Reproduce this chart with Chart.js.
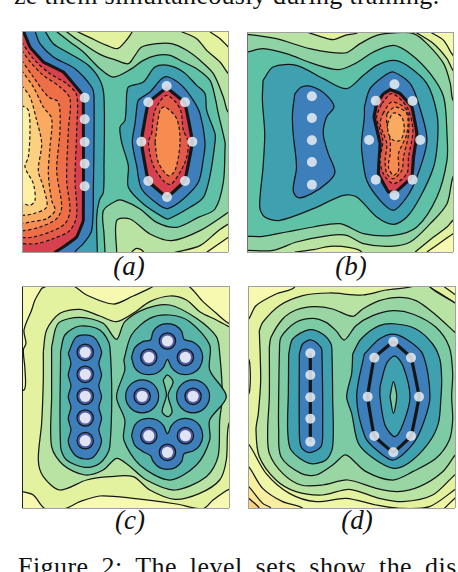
<!DOCTYPE html>
<html><head><meta charset="utf-8">
<style>
html,body{margin:0;padding:0;background:#fff;width:458px;height:572px;overflow:hidden;position:relative}
canvas{position:absolute}
.t{position:absolute;white-space:nowrap;font-family:"Liberation Serif",serif;color:#111}
.cap{position:absolute;white-space:nowrap;font-family:"Liberation Serif",serif;font-style:italic;font-size:27px;color:#111;transform:translateX(-50%)}
</style></head><body>
<div class="t" style="left:14px;top:-19px;font-size:26px;letter-spacing:.3px">ze them simultaneously during training.</div>
<div class="t" style="left:18px;top:552px;font-size:26px;word-spacing:6px;letter-spacing:.45px">Figure 2: The level sets show the dis</div>
<div class="cap" style="left:129px;top:251px">(a)</div>
<div class="cap" style="left:351px;top:251px">(b)</div>
<div class="cap" style="left:130px;top:505px">(c)</div>
<div class="cap" style="left:357px;top:505px">(d)</div>
<canvas id="pa"></canvas><canvas id="pb"></canvas><canvas id="pc"></canvas><canvas id="pd"></canvas>
<script src="https://cdn.jsdelivr.net/npm/chart.js@4/dist/chart.umd.min.js"></script>
<script>
// Colour levels of the contour map
const Y0='#f6f9b0',Y1='#e3f29e',G2='#b9e3a2',G3='#8fd3a5',T4='#5fc1a6',T5='#3fa0b0',B6='#3c7fba';
const R7='#d7404e',R8='#e25a48',R9='#ee6f47',O10='#f68c50',O11='#fbab61',O12='#fdd07f',O13='#fef0a5';

// Panel (a) contour vertices
const a01=[228,92,270,112,320,135,352,145,372,128,397,92,397,50,228,50];
const a02=[540,92,590,115,620,150,660,185,685,220,720,250,720,50,540,50];
const a03=[630,95,660,115,685,140,720,170,720,50,630,50];
const a04=[395,754,410,744,430,754,430,790,395,790];
const a05=[525,756,600,736,655,691,685,671,720,650,720,800,525,800];
const a06=[620,756,670,721,685,711,720,690,720,800,620,800];
const a07=[197,92,235,120,300,162,350,180,385,190,405,165,425,140,470,130,515,130,560,150,600,180,640,220,670,290,684,335,720,370,720,610,685,636,600,691,515,721,450,701,390,656,350,661,350,756,350,800,20,800,20,50,197,50];
const a08=[168,92,210,125,250,155,300,205,340,230,395,205,430,180,470,165,510,165,550,185,590,205,630,240,645,290,655,340,675,426,675,446,670,546,645,626,595,651,530,681,470,666,420,626,370,601,350,601,310,631,312,700,315,756,315,800,20,800,20,50,168,50];
const a09=[135,92,160,130,210,160,265,195,300,240,312,290,312,500,310,576,298,600,290,650,292,756,292,800,20,800,20,50,135,50];
const a10=[380,280,385,260,430,245,465,200,505,195,550,215,590,255,615,280,620,330,645,400,645,426,630,526,610,591,570,621,505,656,490,651,430,611,385,561,385,496,365,426,360,380,375,360,380,280];
const a11=[105,92,120,130,160,170,225,205,275,260,282,290,280,570,275,690,250,730,225,756,225,800,20,800,20,50,105,50];
const a12=[410,325,415,300,450,275,485,235,505,230,545,255,580,300,600,340,615,425,610,476,595,546,550,596,505,624,480,616,425,566,410,496,397,426,405,370,410,325];
const a13=[70,92,90,140,130,185,190,215,245,280,250,310,250,660,230,710,190,740,165,756,165,800,20,800,20,50,70,50];
const a14=[65,125,100,175,150,220,200,250,230,285,230,390,225,540,230,645,210,690,160,715,110,730,65,730,20,730,20,125];
const a15=[65,150,95,190,130,225,180,260,210,295,205,390,200,540,210,630,195,670,150,695,100,710,65,712,20,712,20,150];
const a16=[65,180,100,230,145,290,175,305,180,390,170,510,185,620,170,655,120,680,65,692,20,692,20,180];
const a17=[65,210,100,260,130,320,155,355,150,440,145,520,155,600,165,630,140,655,90,665,65,670,20,670,20,210];
const a18=[65,255,90,290,110,360,125,430,115,510,130,560,140,620,100,640,65,645,20,645,20,255];
const a19=[65,315,85,330,90,390,85,470,75,500,100,550,105,600,90,615,65,608,20,608,20,315];
const a20=[500,262,445,307,424,424,445,542,501,590,554,542,577,424,554,307,500,262];
const a21=[455,400,465,330,500,285,540,325,550,390,565,426,555,486,515,551,495,546,460,496,445,426,455,400];
const a22=[465,426,480,330,495,320,530,355,540,426,525,511,505,526,475,486,465,426];
const aPathList=[a01,a02,a03,a04,a05,a06,a07,a08,a09,a10,a11,a12,a13,a14,a15,a16,a17,a18,a19,a20,a21,a22];
const aFillList=[Y1,Y1,Y0,Y1,Y1,Y0,G3,T4,T5,T5,B6,B6,R7,R8,R9,O10,O11,O12,O13,R7,R8,O10];
const aWidthList=[1.25,1.25,1.25,1.25,1.25,1.25,1.25,1.25,1.25,1.25,1.25,1.25,3,1.2,1.2,1.2,1.2,1.2,1.2,3.2,1.2,1.2];
const aDashList=[0,0,0,0,0,0,0,0,0,0,0,0,0,1,1,1,1,1,1,0,1,1];
const aDotsX=[254,254,254,254,254,500,445,555,424,577,445,555,501];
const aDotsY=[292,357,425,490,558,257,306,306,424,424,542,542,590];

// Panel (b) contour vertices
const b01=[230,95,270,108,310,118,345,105,385,95,385,50,230,50];
const b02=[555,95,610,130,650,175,668,210,700,240,700,50,555,50];
const b03=[600,95,640,120,668,165,700,190,700,50,600,50];
const b04=[555,755,610,710,650,680,668,660,700,640,700,790,555,790];
const b05=[590,755,640,720,668,700,700,680,700,790,590,790];
const b06=[195,755,250,748,300,738,360,742,395,755,395,790,195,790];
const b07=[20,102,52,102,140,115,240,145,345,158,390,130,440,105,500,97,550,100,590,130,640,190,660,250,668,300,700,340,700,480,668,530,650,610,600,670,540,725,480,738,400,730,350,705,300,705,200,725,130,750,52,750,20,750];
const b08=[20,158,52,155,100,145,170,160,250,190,325,208,375,190,430,155,490,135,540,160,600,220,640,290,650,400,650,480,620,590,560,680,490,705,400,700,330,670,250,680,170,695,100,708,52,708,20,708];
const b09=[100,240,130,200,200,195,280,235,350,265,400,225,440,195,490,180,530,195,590,250,620,340,622,420,610,500,570,590,530,650,490,672,440,650,380,590,340,585,250,625,150,660,105,650,90,620,100,500,105,400,98,300,100,240];
const b10=[195,280,215,260,250,260,290,285,312,320,290,350,280,400,295,460,315,515,295,545,245,580,205,592,190,570,200,500,190,400,188,340,195,280];
const b11=[403,320,420,265,465,225,490,215,540,250,565,310,590,420,560,530,530,590,490,630,450,600,410,540,395,450,395,420,403,350,403,320];
const b12=[460,280,480,268,510,280,545,320,560,400,550,470,545,530,500,572,475,575,445,520,450,430,432,350,440,310,460,280];
const b13=[455,310,485,280,530,320,548,390,535,470,530,520,490,550,460,520,450,480,458,420,440,350,455,310];
const b14=[458,340,485,305,530,330,535,400,520,470,515,510,490,535,470,520,465,480,470,430,450,370,458,340];
const b15=[470,340,495,320,530,340,530,400,505,460,505,510,490,525,475,500,480,460,480,420,470,370,470,340];
const b16=[472,370,490,338,515,350,522,390,510,420,490,420,475,400,472,370];
const bPathList=[b01,b02,b03,b04,b05,b06,b07,b08,b09,b10,b11,b12,b13,b14,b15,b16];
const bFillList=[Y1,Y1,Y0,Y1,Y0,Y1,G3,T4,T5,B6,B6,R7,R8,R9,O10,O11];
const bWidthList=[1.25,1.25,1.25,1.25,1.25,1.25,1.25,1.25,1.25,1.25,1.25,3.2,1.2,1.2,1.2,1.2];
const bDashList=[0,0,0,0,0,0,0,0,0,0,0,0,1,1,1,1];
const bDotsX=[246,246,246,246,246,493,437,547,417,570,437,547,493];
const bDotsY=[288,353,420,485,553,252,301,302,419,419,538,538,585];

// Panel (c) contour vertices
const c01=[125,25,150,15,215,15,260,45,340,72,400,48,450,25,470,15,560,15,610,65,650,100,688,130,720,130,720,620,688,628,640,660,610,686,530,672,400,655,300,648,240,665,195,686,135,686,100,645,66,635,20,630,20,330,72,330,75,270,70,210,78,190,72,150,95,90,105,60,125,25];
const c02=[130,215,140,150,180,100,240,88,300,108,350,125,400,100,450,65,510,48,560,60,600,95,650,120,688,140,720,160,720,420,688,430,680,540,660,600,600,640,525,658,450,630,400,590,330,590,260,600,180,630,130,590,115,540,125,430,130,300,130,215];
const c03=[155,200,175,130,240,112,310,130,350,178,375,125,440,85,510,75,590,115,650,170,660,220,668,350,660,420,655,530,620,590,525,630,440,600,385,555,350,535,310,570,255,585,190,555,155,500,155,350,155,200];
const c04=[182,215,195,165,240,138,300,150,330,200,330,500,300,550,255,562,200,540,182,500,182,215];
const c05=[372,240,395,165,450,115,510,105,570,125,630,195,630,270,680,350,630,420,630,480,590,555,510,600,420,555,372,480,375,420,350,350,375,270,372,240];
const c06=[490,300,503,285,520,305,505,345,517,395,505,410,487,395,500,345,490,300];
const c07=[205,220,230,170,280,170,305,215,297,250,305,285,297,317,305,350,297,382,305,415,297,450,305,485,282,530,255,537,225,525,205,485,213,450,205,415,213,382,205,350,213,317,205,285,213,250,205,220];
const c08=[395,232,405,203,430,184,452,180,460,155,478,137,503,131,528,137,546,155,553,178,580,186,600,203,609,232,600,262,580,279,557,284,534,279,515,262,503,238,491,262,472,279,447,284,422,279,404,262,395,232];
const c09=[395,467,404,437,422,420,447,415,472,420,491,437,503,461,515,437,534,420,557,415,580,420,600,437,609,467,600,496,580,513,553,521,546,544,528,562,503,568,478,562,460,544,452,527,430,515,405,496,395,467];
const cPathList=[c01,c02,c03,c04,c05,c06,c07,c08,c09];
const cFillList=[Y1,G2,'#7ccba5','#58b6a9','#58b6a9','#7ccba5',B6,B6,B6];
const cWidthList=[1.25,1.25,1.25,1.25,1.25,1.25,1.25,1.25,1.25];
const cHaloX=[427,580];
const cHaloY=[349,349];
const cRingX=[256,256,256,256,256,447,503,557,427,580,447,503,557];
const cRingY=[217,283,349,414,482,232,183,232,349,349,467,517,467];

// Panel (d) contour vertices
const d01=[20,150,56,117,78,77,138,42,193,22,193,-20,20,-20];
const d02=[598,20,680,72,720,100,720,-20,598,-20];
const d03=[643,20,680,47,720,70,720,-20,643,-20];
const d04=[20,470,54,490,108,580,178,640,258,665,348,655,438,675,508,685,598,680,680,625,720,600,720,720,20,720];
const d05=[20,530,56,560,98,625,158,665,218,685,218,720,20,720];
const d06=[20,590,56,620,98,670,123,685,123,720,20,720];
const d07=[20,625,56,655,88,685,88,720,20,720];
const d08=[643,685,680,650,720,620,720,720,643,720];
const d09=[20,235,54,235,60,260,60,320,54,345,20,345];
const d10=[88,152,98,127,148,77,218,47,298,39,398,45,468,30,553,17,553,-10,598,-10,598,20,680,72,720,100,720,560,680,580,608,645,518,665,448,655,358,628,278,645,198,635,138,600,88,530,78,450,85,400,92,300,88,152];
const d11=[118,202,123,172,158,117,198,90,253,80,308,87,368,109,398,87,448,62,508,52,558,62,608,97,680,162,720,200,720,490,680,520,638,575,568,620,503,635,438,625,353,600,278,615,213,615,158,580,118,520,113,450,118,350,118,202];
const d12=[148,222,153,172,198,127,248,115,288,127,318,152,343,180,378,137,428,107,488,92,548,102,618,142,658,202,668,280,665,350,668,420,658,480,618,535,548,575,488,600,408,575,358,530,343,525,308,555,258,585,213,580,153,530,146,450,146,350,148,222];
const d13=[176,222,188,177,238,149,278,162,303,192,306,222,308,350,308,500,288,540,238,550,183,510,173,450,175,340,176,222];
const d14=[368,222,393,177,448,137,498,132,558,147,608,192,630,240,635,300,633,350,625,430,595,490,535,550,490,565,430,535,385,490,365,400,350,350,365,280,368,222];
const d15=[208,222,218,192,243,180,273,202,276,222,278,450,273,500,238,518,213,500,208,450,208,222];
const d16=[403,222,448,177,488,162,528,177,578,222,600,350,580,430,550,490,490,540,440,510,405,470,380,350,403,222];
const d17=[450,320,470,250,495,228,520,260,540,350,520,430,495,470,465,435,450,350,450,320];
const d18=[480,350,490,305,500,350,490,400,480,350];
const d19=[241,220,241,485];
const d20=[490,185,433,233,413,350,433,468,490,517,543,468,567,350,543,233,490,185];
const dPathList=[d01,d02,d03,d04,d05,d06,d07,d08,d09,d10,d11,d12,d13,d14,d15,d16,d17,d18,d19,d20];
const dFillList=[Y0,Y1,Y0,'#eef6a8','#f8eea0','#fbe592',O12,Y0,Y0,G2,'#9ad6a4','#7ccba5',T5,T5,B6,B6,T5,'#7ccba5',null,null];
const dWidthList=[1.25,1.25,1.25,1.25,1.25,1.25,1.25,1.25,1.25,1.25,1.25,1.25,1.25,1.25,1.25,1.25,1.25,1.25,3.2,3.2];
const dDotsX=[241,241,241,241,241,490,433,543,413,567,433,543,490];
const dDotsY=[220,285,352,416,485,185,233,233,350,350,468,468,517];

const plotBg={id:'plotBg',beforeDatasetsDraw(ch,a,o){const{ctx,chartArea:r}=ch;ctx.save();ctx.fillStyle=o.color;ctx.fillRect(r.left,r.top,r.right-r.left,r.bottom-r.top);ctx.restore();}};
const toPts=f=>{const p=[];for(let i=0;i<f.length;i+=2)p.push({x:f[i],y:f[i+1]});return p;};
const zip=(X,Y)=>X.map((x,i)=>({x,y:Y[i]}));
const DOT='rgba(232,236,242,.86)';

function panel(id,box,range,bg,paths,fills,widths,dashes,extra,frame){
  const el=document.getElementById(id);
  el.style.left=(box[0]-1)+'px';el.style.top=(box[1]-1)+'px';
  el.style.filter='blur(.35px)';
  el.width=box[2]+2;el.height=box[3]+2;
  const ds=paths.map((p,i)=>({data:toPts(p),showLine:true,tension:widths[i]>=3?.06:.3,pointRadius:0,
    borderColor:'#161616',borderWidth:widths[i],borderDash:dashes&&dashes[i]?[3.4,2.4]:[],
    fill:fills[i]?'shape':false,backgroundColor:fills[i]||'transparent',clip:0,order:1000-i}));
  extra.forEach((e,i)=>ds.push({data:e.data,showLine:false,pointRadius:e.r,pointBackgroundColor:e.c,pointBorderColor:e.b||'transparent',pointBorderWidth:e.b?1.2:0,clip:false,order:100-i}));
  const sc=(mn,mx,rev,cols)=>({type:'linear',min:mn,max:mx,reverse:rev,
    afterBuildTicks:s=>{s.ticks=[{value:mn},{value:mx}];},
    ticks:{display:false},border:{display:false},
    grid:{drawTicks:false,z:1,lineWidth:1,color:c=>c.tick&&c.tick.value===mn?cols[0]:cols[1]}});
  new Chart(el,{type:'scatter',data:{datasets:ds},plugins:[plotBg],options:{
    responsive:false,animation:false,events:[],layout:{padding:1,autoPadding:false},
    elements:{line:{capBezierPoints:false}},
    plugins:{legend:{display:false},tooltip:{enabled:false},title:{display:false},plotBg:{color:bg}},
    scales:{x:sc(range[0],range[1],false,frame),y:sc(range[2],range[3],true,['#a0a0a0','#a0a0a0'])}}});
}
panel('pa',[22,31,206,221],[66,684,92,755],G2,aPathList,aFillList,aWidthList,aDashList,[{data:zip(aDotsX,aDotsY),r:5,c:DOT}],['#a0a0a0','#a0a0a0']);
panel('pb',[247,32,206,220],[52,668,95,755],G2,bPathList,bFillList,bWidthList,bDashList,[{data:zip(bDotsX,bDotsY),r:5,c:DOT}],['#707070','#a0a0a0']);
panel('pc',[22,286,207,222],[66,688,18,684],Y0,cPathList,cFillList,cWidthList,null,[
  {data:zip(cHaloX,cHaloY),r:16.5,c:B6,b:'#161616'},
  {data:zip(cRingX,cRingY),r:8.2,c:'#4a5ca8',b:'#161616'},
  {data:zip(cRingX,cRingY),r:5.6,c:'#e0e4f2'}],['#222','#a0a0a0']);
panel('pd',[248,286,207,222],[54,675,18,684],Y1,dPathList,dFillList,dWidthList,null,[{data:zip(dDotsX,dDotsY),r:5,c:DOT}],['#a0a0a0','#a0a0a0']);
</script>
</body></html>
